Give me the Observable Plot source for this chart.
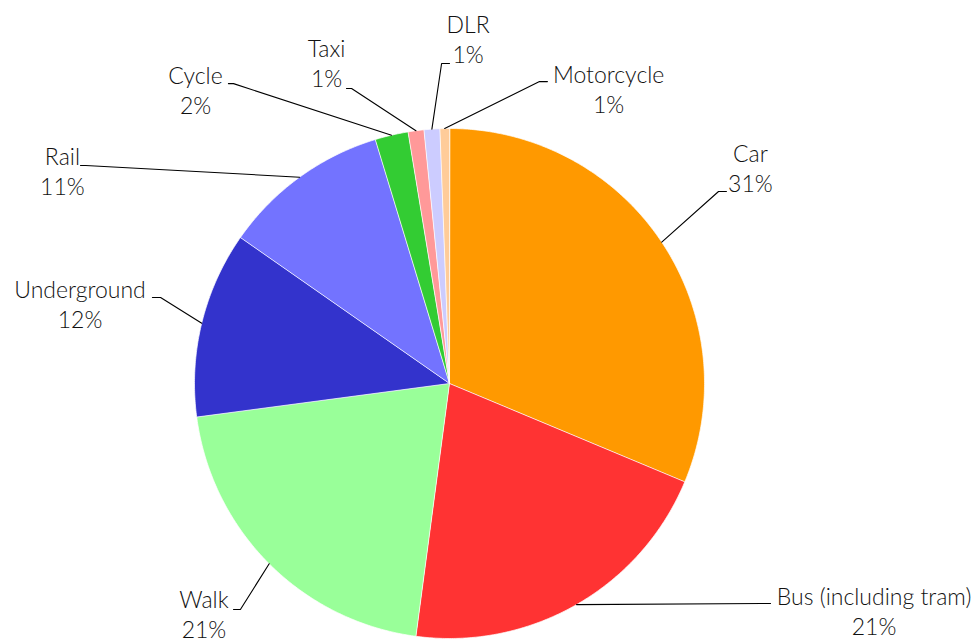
<!DOCTYPE html>
<html>
<head>
<meta charset="utf-8">
<script src="https://cdn.jsdelivr.net/npm/d3@7"></script>
<script src="https://cdn.jsdelivr.net/npm/@observablehq/plot@0.6"></script>
<style>
  html, body { margin: 0; padding: 0; background: #fff; }
  #chart svg { display: block; }
</style>
</head>
<body>
<div id="chart"></div>
<script>
// ---- Data ----
const modes = ["Car", "Bus (including tram)", "Walk", "Underground", "Rail", "Cycle", "Taxi", "DLR", "Motorcycle"];
const shares = [31.3, 20.8, 20.8, 11.8, 10.6, 2.1, 1.0, 1.0, 0.6];
const colors = ["#ff9900", "#ff3333", "#99ff99", "#3333cc", "#7373ff", "#33cc33", "#ff9999", "#ccccff", "#ffcc99"];

// ---- Label layout (in pie-radius units, centre = 0,0, y up) ----
// elbow: where the connector bends; stub: end of short horizontal; cx: label centre; base: first-line baseline
const labelElbowX = [1.055, 1.227, -0.820, -1.133, -1.427, -0.847, -0.384, -0.031, 0.353];
const labelElbowY = [0.753, -0.863, -0.886, 0.337, 0.855, 1.176, 1.157, 1.255, 1.184];
const labelStubX  = [1.086, 1.259, -0.847, -1.165, -1.447, -0.867, -0.404, 0.000, 0.384];
const labelCenterX = [1.180, 1.665, -0.963, -1.449, -1.518, -0.996, -0.482, 0.073, 0.624];
const labelBaseY  = [0.867, -0.867, -0.882, 0.337, 0.855, 1.173, 1.282, 1.373, 1.180];

// ---- Geometry ----
const W = 979, H = 640, CX = 449, CY = 383, R = 255;
const lineGap = 30 / R;

const total = d3.sum(shares);
let acc = 0;
const slices = modes.map((name, i) => {
  const a0 = acc / total * 2 * Math.PI;
  acc += shares[i];
  const a1 = acc / total * 2 * Math.PI;
  return {name, value: shares[i], color: colors[i], a0, a1, mid: (a0 + a1) / 2, i};
});

const slicePts = [];
for (const s of slices) {
  slicePts.push({name: s.name, color: s.color, x: 0, y: 0});
  const n = Math.max(2, Math.ceil((s.a1 - s.a0) / (Math.PI / 360)));
  for (let k = 0; k <= n; k++) {
    const a = s.a0 + (s.a1 - s.a0) * k / n;
    slicePts.push({name: s.name, color: s.color, x: Math.sin(a), y: Math.cos(a)});
  }
}

const connPts = [];
for (const s of slices) {
  const i = s.i;
  connPts.push({name: s.name, x: Math.sin(s.mid), y: Math.cos(s.mid)});
  connPts.push({name: s.name, x: labelElbowX[i], y: labelElbowY[i]});
  connPts.push({name: s.name, x: labelStubX[i], y: labelElbowY[i]});
}

const labels = slices.map(s => ({
  name: s.name,
  pct: Math.round(s.value) + "%",
  x: labelCenterX[s.i],
  y1: labelBaseY[s.i],
  y2: labelBaseY[s.i] - lineGap
}));

const plot = Plot.plot({
  width: W,
  height: H,
  margin: 0,
  style: {background: "#fff", fontFamily: "Lato, sans-serif", fontSize: "23px", overflow: "hidden"},
  x: {domain: [(0 - CX) / R, (W - CX) / R], axis: null},
  y: {domain: [(CY - H) / R, CY / R], axis: null},
  color: {type: "identity"},
  marks: [
    Plot.line(slicePts, {x: "x", y: "y", z: "name", fill: "color", stroke: "white", strokeWidth: 0.7, curve: "linear-closed"}),
    Plot.line(connPts, {x: "x", y: "y", z: "name", stroke: "#000", strokeWidth: 1.1}),
    Plot.text(labels, {x: "x", y: "y1", text: "name", lineAnchor: "bottom", textAnchor: "middle", fill: "#111", fontSize: 23, fontWeight: 300}),
    Plot.text(labels, {x: "x", y: "y2", text: "pct", lineAnchor: "bottom", textAnchor: "middle", fill: "#111", fontSize: 23, fontWeight: 300})
  ]
});

document.getElementById("chart").appendChild(plot);
</script>
</body>
</html>
